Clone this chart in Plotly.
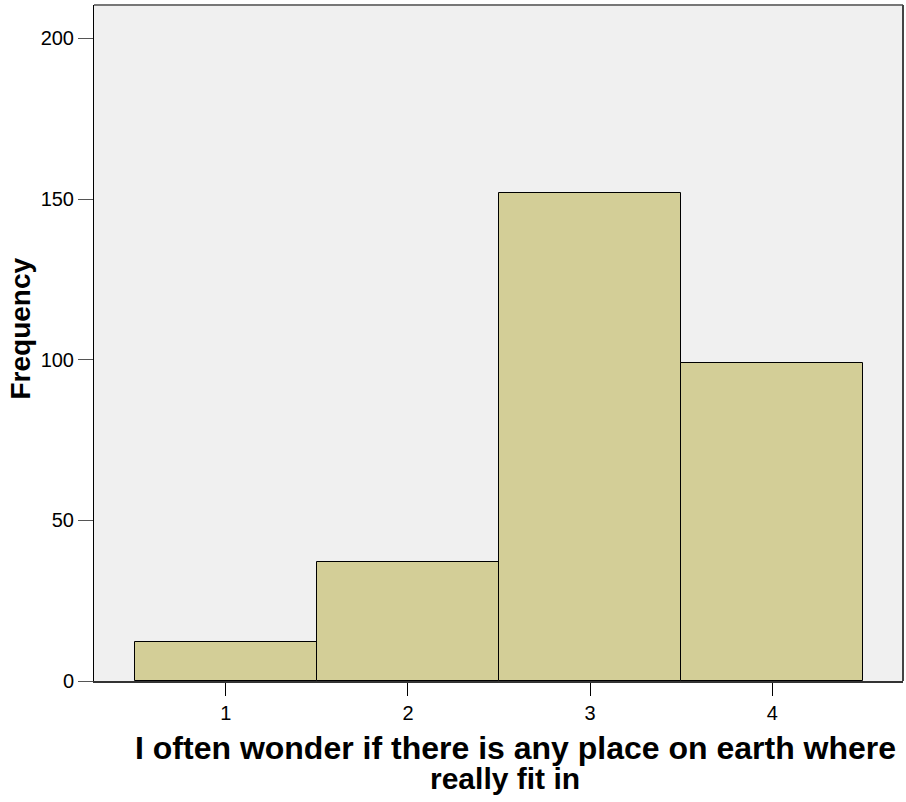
import plotly.graph_objects as go

categories = [1, 2, 3, 4]
frequencies = [12, 37, 152, 99]
y_ticks = [0, 50, 100, 150, 200]
x_title_line1 = "I often wonder if there is any place on earth where"
x_title_line2 = "really fit in"
y_title = "Frequency"

fig = go.Figure()
fig.add_trace(go.Bar(
    x=categories, y=frequencies, width=1,
    marker=dict(color="#D3CE97", line=dict(color="#000000", width=1)),
    hoverinfo="x+y",
))

font_family = "Liberation Sans, Arial, sans-serif"
fig.update_layout(
    width=906, height=802,
    margin=dict(l=94, r=3, t=5, b=121),
    paper_bgcolor="white", plot_bgcolor="#F0F0F0",
    showlegend=False,
    font=dict(family=font_family, color="#000000"),
    bargap=0,
)
fig.update_xaxes(
    range=[0.277, 4.717], tickvals=categories, ticktext=[str(c) for c in categories],
    ticks="outside", ticklen=13, tickcolor="#000000", tickwidth=1,
    tickfont=dict(size=20, family=font_family, color="#000000"),
    showgrid=False, zeroline=False,
    showline=True, linecolor="#333333", linewidth=2,
)
fig.update_yaxes(
    range=[0, 210.4], tickvals=y_ticks,
    ticks="outside", ticklen=15, tickcolor="#555555", tickwidth=1,
    tickfont=dict(size=20, family=font_family, color="#000000"),
    ticklabelstandoff=0,
    showgrid=False, zeroline=False,
    showline=True, linecolor="#000000", linewidth=1,
)
# top and right frame borders
fig.add_shape(type="line", xref="paper", yref="paper", x0=0, x1=1, y0=1, y1=1,
              line=dict(color="#777777", width=2))
fig.add_shape(type="line", xref="paper", yref="paper", x0=1, x1=1, y0=0, y1=1,
              line=dict(color="#444444", width=2))

fig.add_annotation(text=f"<b>{x_title_line1}</b>", xref="paper", yref="paper",
                   x=0.5216, y=-0.0984, xanchor="center", yanchor="middle", showarrow=False,
                   font=dict(size=32, family=font_family, color="#000000"))
fig.add_annotation(text=f"<b>{x_title_line2}</b>", xref="paper", yref="paper",
                   x=0.5075, y=-0.1435, xanchor="center", yanchor="middle", showarrow=False,
                   font=dict(size=30, family=font_family, color="#000000"))
fig.add_annotation(text=f"<b>{y_title}</b>", xref="paper", yref="paper",
                   x=-0.091, y=0.522, xanchor="center", yanchor="middle", showarrow=False,
                   textangle=-90,
                   font=dict(size=28, family=font_family, color="#000000"))

fig.write_html("out.html", config={"displayModeBar": False},
               post_script="document.body.style.margin='0';document.body.style.overflow='hidden';")
